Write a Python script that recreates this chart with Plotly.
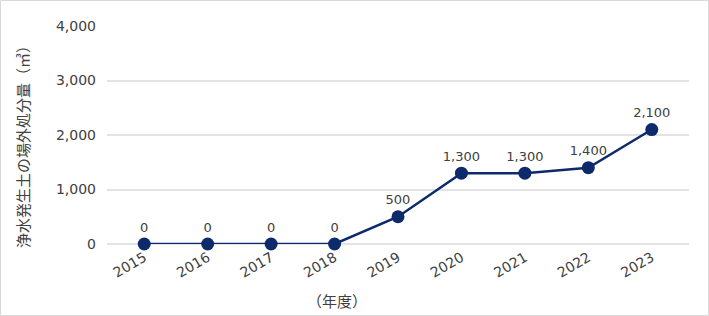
import plotly.graph_objects as go

years = ["2015", "2016", "2017", "2018", "2019", "2020", "2021", "2022", "2023"]
values = [0, 0, 0, 0, 500, 1300, 1300, 1400, 2100]
tick_vals = [0, 1000, 2000, 3000, 4000]
y_title = "浄水発生土の場外処分量（㎥）"
x_title = "（年度）"

W, H = 709, 316
L, R, T, B = 107, 20, 26, 72
pw, ph = W - L - R, H - T - B

font = "DejaVu Sans, Noto Sans CJK JP, sans-serif"
cjk = "Noto Sans CJK JP, sans-serif"
color = "#0d2a6b"
txt = "#404040"

fig = go.Figure()
fig.add_trace(go.Scatter(
    x=years, y=values, mode="lines+markers+text",
    line=dict(color=color, width=2.5),
    marker=dict(color=color, size=13),
    text=[f"{v:,}" for v in values], textposition="top center",
    textfont=dict(size=13, color=txt, family=font),
    cliponaxis=False, hoverinfo="skip",
))

fig.update_layout(
    width=W, height=H, margin=dict(l=L, r=R, t=T, b=B),
    paper_bgcolor="white", plot_bgcolor="white", showlegend=False,
    font=dict(family=font, size=14, color=txt),
    xaxis=dict(type="category", tickangle=-30, showgrid=False, showline=False,
               ticks="", tickfont=dict(size=14), ticklabelstandoff=2),
    yaxis=dict(range=[0, 4000], tickvals=tick_vals, tickformat=",",
               showgrid=True, gridcolor="#e3e3e3", gridwidth=1.5,
               zeroline=True, zerolinecolor="#e3e3e3", zerolinewidth=1.5,
               showline=False, ticks="", tickfont=dict(size=14),
               ticklabelstandoff=10),
    annotations=[
        dict(text=x_title, x=(337 - L) / pw, y=-(300 - T - ph) / ph,
             xref="paper", yref="paper", showarrow=False,
             xanchor="center", yanchor="middle",
             font=dict(size=15, color=txt, family=cjk)),
        dict(text=y_title, x=(22 - L) / pw, y=1 - (143 - T) / ph,
             xref="paper", yref="paper", showarrow=False, textangle=-90,
             xanchor="center", yanchor="middle",
             font=dict(size=15, color=txt, family=cjk)),
    ],
    shapes=[dict(type="rect", xref="paper", yref="paper",
                 x0=(0.5 - L) / pw, x1=(W - 0.5 - L) / pw,
                 y0=-(B - 0.5) / ph, y1=1 + (T - 0.5) / ph,
                 line=dict(color="#d9d9d9", width=1), layer="below")],
)
fig.update_layout(separators=".,")
fig.write_html("out.html")
